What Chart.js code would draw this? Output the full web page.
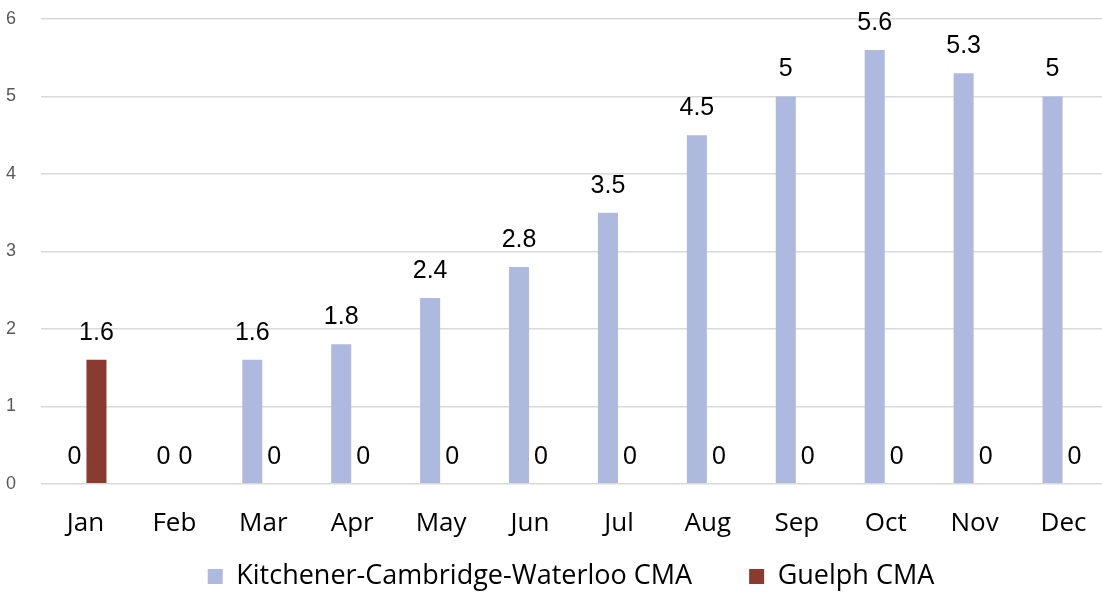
<!DOCTYPE html>
<html>
<head>
<meta charset="utf-8">
<script src="https://cdn.jsdelivr.net/npm/chart.js@4.4.1/dist/chart.umd.min.js"></script>
<style>
    html, body { margin: 0; padding: 0; background: #fff; }
    #wrap { width: 1102px; height: 592px; }
</style>
</head>
<body>
<div id="wrap"><canvas id="chart" width="1102" height="592"></canvas></div>
<script>
// values
const months = ['Jan', 'Feb', 'Mar', 'Apr', 'May', 'Jun', 'Jul', 'Aug', 'Sep', 'Oct', 'Nov', 'Dec'];
const kcwValues = [0, 0, 1.6, 1.8, 2.4, 2.8, 3.5, 4.5, 5, 5.6, 5.3, 5];
const guelphValues = [1.6, 0, 0, 0, 0, 0, 0, 0, 0, 0, 0, 0];
const yTicks = [0, 1, 2, 3, 4, 5, 6];

const labelFont = '"Open Sans", "Liberation Sans", sans-serif';
const numFont = '"Liberation Sans", Arial, sans-serif';

// value labels above every bar (zeros included)
const valueLabels = {
    id: 'valueLabels',
    afterDatasetsDraw(chart) {
        const ctx = chart.ctx;
        ctx.save();
        ctx.font = '25px ' + numFont;
        ctx.fillStyle = '#000';
        ctx.textAlign = 'center';
        ctx.textBaseline = 'middle';
        chart.data.datasets.forEach((ds, i) => {
            chart.getDatasetMeta(i).data.forEach((bar, j) => {
                ctx.fillText(String(ds.data[j]), bar.x, bar.y - 27);
            });
        });
        ctx.restore();
    }
};

// layout tweaks: short legend box drawn low, plot runs a bit past the right edge
const layoutTweaks = {
    id: 'layoutTweaks',
    afterInit(chart) {
        const lg = chart.legend;
        if (!lg) return;
        const fit = lg.fit;
        lg.fit = function () {
            fit.call(this);
            this.height = 29;
        };
    },
    afterLayout(chart) {
        const lg = chart.legend;
        if (lg) {
            lg.top = 506;
            lg.bottom = chart.height;
            lg.left += 17;
            lg.right += 17;
        }
        const x = chart.scales.x;
        x.right = 1108;
        x.width = x.right - x.left;
        x.configure();
        chart.chartArea.right = 1108;
        chart.chartArea.width = chart.chartArea.right - chart.chartArea.left;
        const y = chart.scales.y;
        y.configure();
    }
};

const ctx = document.getElementById('chart').getContext('2d');
const myChart = new Chart(ctx, {
    type: 'bar',
    data: {
        labels: months,
        datasets: [
            {
                label: 'Kitchener-Cambridge-Waterloo CMA',
                data: kcwValues,
                backgroundColor: '#AEB9E0',
                borderWidth: 0
            }, {
                label: 'Guelph CMA',
                data: guelphValues,
                backgroundColor: '#8B3A30',
                borderWidth: 0
            }
        ]
    },
    options: {
        responsive: false,
        animation: false,
        layout: {
            padding: { top: 19, right: 0, bottom: 0, left: 6 }
        },
        datasets: {
            bar: { categoryPercentage: 0.495, barPercentage: 0.91 }
        },
        plugins: {
            tooltip: { enabled: false },
            legend: {
                position: 'bottom',
                labels: {
                    boxWidth: 15,
                    boxHeight: 15,
                    padding: 57,
                    color: '#000',
                    font: { family: labelFont, size: 27 }
                }
            }
        },
        scales: {
            x: {
                grid: { display: false, drawTicks: false },
                border: { display: false },
                ticks: {
                    color: '#000',
                    padding: 24,
                    font: { family: labelFont, size: 26 }
                }
            },
            y: {
                min: 0,
                max: 6,
                afterBuildTicks: scale => {
                    scale.ticks = yTicks.map(v => ({ value: v }));
                },
                grid: { color: '#D9D9D9', lineWidth: 1.5, drawTicks: false },
                border: { display: false },
                ticks: {
                    color: '#595959',
                    padding: 0,
                    crossAlign: 'far',
                    font: { family: numFont, size: 18 }
                },
                afterFit: scale => { scale.width = 35; }
            }
        }
    },
    plugins: [valueLabels, layoutTweaks]
});
</script>
</body>
</html>
